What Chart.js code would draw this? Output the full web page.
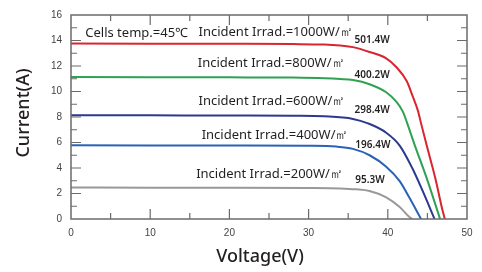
<!DOCTYPE html>
<html>
<head>
<meta charset="utf-8">
<script src="https://cdn.jsdelivr.net/npm/chart.js@4"></script>
<style>
  html, body { margin: 0; padding: 0; background: #fff; }
  #wrap { width: 482px; height: 272px; }
</style>
</head>
<body>
<div id="wrap"><canvas id="ivChart" width="482" height="272"></canvas></div>
<script>
// I-V curves, one pair of arrays per irradiance
let v1000 = [0, 10, 20, 28, 32, 34, 35.6, 37.7, 39.8, 41.1, 42.4, 43.1, 43.8, 44.2, 44.9, 46.0, 46.9, 47.2];
let i1000 = [13.76, 13.75, 13.74, 13.72, 13.68, 13.6, 13.48, 13.1, 12.6, 11.9, 10.8, 9.7, 8.5, 7.5, 5.8, 3.2, 0.7, 0];

let v800 = [0, 10, 20, 28, 32, 34, 35.6, 37.7, 39.8, 41.1, 41.9, 42.4, 43.4, 44.9, 46.6];
let i800 = [11.13, 11.12, 11.11, 11.09, 11.04, 10.98, 10.9, 10.57, 9.94, 9.18, 8.42, 7.6, 5.8, 3.22, 0];

let v600 = [0, 10, 20, 28, 32, 35.6, 37.5, 39.8, 41.5, 43.1, 44.4, 45.9];
let i600 = [8.14, 8.13, 8.12, 8.1, 8.05, 7.85, 7.5, 6.77, 5.76, 3.98, 2.2, 0];

let v400 = [0, 10, 20, 30, 33.5, 35.6, 37.7, 39.8, 41.5, 42.7, 44.2];
let i400 = [5.78, 5.77, 5.76, 5.74, 5.68, 5.5, 5.0, 4.1, 2.97, 1.7, 0];

let v200 = [0, 10, 20, 30, 34, 36, 37.7, 39.8, 41.5, 42.7, 43.1];
let i200 = [2.47, 2.46, 2.46, 2.44, 2.4, 2.33, 2.2, 1.7, 0.94, 0.17, 0];

let xTicks = [0, 10, 20, 30, 40, 50];
let yTicks = [0, 2, 4, 6, 8, 10, 12, 14, 16];

let irradNames = ["Incident Irrad.=1000W/㎡", "Incident Irrad.=800W/㎡", "Incident Irrad.=600W/㎡", "Incident Irrad.=400W/㎡", "Incident Irrad.=200W/㎡"];
let powerNames = ["501.4W", "400.2W", "298.4W", "196.4W", "95.3W"];
let tempText = "Cells temp.=45℃";

function toPoints(vs, is) {
  let pts = [];
  for (let k = 0; k < vs.length; k++) {
    pts.push({ x: vs[k], y: is[k] });
  }
  return pts;
}

function curve(vs, is, color) {
  return {
    data: toPoints(vs, is),
    showLine: true,
    borderColor: color,
    borderWidth: 2,
    pointRadius: 0,
    cubicInterpolationMode: "monotone",
    fill: false,
  };
}

// text placed in value coordinates (volts, amps)
let bigFont = "13px 'Noto Sans'";
let smallFont = "600 10px 'Noto Sans'";
let notes = [
  { text: tempText, x: 1.8, y: 14.6, font: bigFont },
  { text: irradNames[0], x: 16.1, y: 14.62, font: bigFont },
  { text: irradNames[1], x: 16.0, y: 12.24, font: bigFont },
  { text: irradNames[2], x: 16.1, y: 9.26, font: bigFont },
  { text: irradNames[3], x: 16.5, y: 6.58, font: bigFont },
  { text: irradNames[4], x: 15.8, y: 3.53, font: bigFont },
  { text: powerNames[0], x: 35.8, y: 14.02, font: smallFont },
  { text: powerNames[1], x: 35.8, y: 11.28, font: smallFont },
  { text: powerNames[2], x: 35.8, y: 8.56, font: smallFont },
  { text: powerNames[3], x: 35.9, y: 5.81, font: smallFont },
  { text: powerNames[4], x: 35.9, y: 3.02, font: smallFont },
];

let framePlugin = {
  id: "frame",
  afterDatasetsDraw(chart) {
    let ctx = chart.ctx;
    let a = chart.chartArea;
    let xs = chart.scales.x;
    let ys = chart.scales.y;
    ctx.save();
    // box
    ctx.strokeStyle = "#6b6b6b";
    ctx.lineWidth = 1.5;
    ctx.strokeRect(a.left, a.top, a.right - a.left, a.bottom - a.top);
    // inward ticks
    ctx.lineWidth = 1.2;
    ctx.beginPath();
    for (let v = 5; v < 50; v += 5) {
      let px = xs.getPixelForValue(v);
      let len = v % 10 === 0 ? 10 : 6;
      ctx.moveTo(px, a.bottom);
      ctx.lineTo(px, a.bottom - len);
      ctx.moveTo(px, a.top);
      ctx.lineTo(px, a.top + len);
    }
    for (let c = 1; c < 16; c++) {
      let py = ys.getPixelForValue(c);
      let len = c % 2 === 0 ? 10 : 6;
      ctx.moveTo(a.left, py);
      ctx.lineTo(a.left + len, py);
      ctx.moveTo(a.right, py);
      ctx.lineTo(a.right - len, py);
    }
    ctx.stroke();
    // notes
    ctx.fillStyle = "#231f20";
    ctx.textAlign = "left";
    ctx.textBaseline = "middle";
    notes.forEach((n) => {
      ctx.font = n.font;
      ctx.fillText(n.text, xs.getPixelForValue(n.x), ys.getPixelForValue(n.y));
    });
    // axis titles
    ctx.font = "500 18px 'Noto Sans'";
    ctx.textAlign = "center";
    ctx.fillText("Voltage(V)", 260, 257);
    ctx.translate(24, 113);
    ctx.rotate(-Math.PI / 2);
    ctx.fillText("Current(A)", 0, 0);
    ctx.restore();
  },
};

new Chart(document.getElementById("ivChart"), {
  type: "scatter",
  data: {
    datasets: [
      curve(v1000, i1000, "#d9252f"),
      curve(v800, i800, "#2fa152"),
      curve(v600, i600, "#2b3a8f"),
      curve(v400, i400, "#2a62b6"),
      curve(v200, i200, "#999999"),
    ],
  },
  options: {
    responsive: false,
    animation: false,
    layout: { padding: { left: 0, top: 9, right: 15, bottom: 0 } },
    plugins: { legend: { display: false }, tooltip: { enabled: false } },
    scales: {
      x: {
        type: "linear",
        min: 0,
        max: 50,
        afterBuildTicks: (s) => { s.ticks = xTicks.map((v) => ({ value: v })); },
        afterFit: (s) => { s.height = 53; },
        grid: { display: false, drawTicks: false },
        border: { display: false },
        ticks: { padding: 8, color: "#444", font: { family: "Liberation Sans", size: 10 }, maxRotation: 0 },
      },
      y: {
        type: "linear",
        min: 0,
        max: 16,
        afterBuildTicks: (s) => { s.ticks = yTicks.map((v) => ({ value: v })); },
        afterFit: (s) => { s.width = 71; },
        grid: { display: false, drawTicks: false },
        border: { display: false },
        ticks: { padding: 9, color: "#444", font: { family: "Liberation Sans", size: 10 } },
      },
    },
  },
  plugins: [framePlugin],
});
</script>
</body>
</html>
